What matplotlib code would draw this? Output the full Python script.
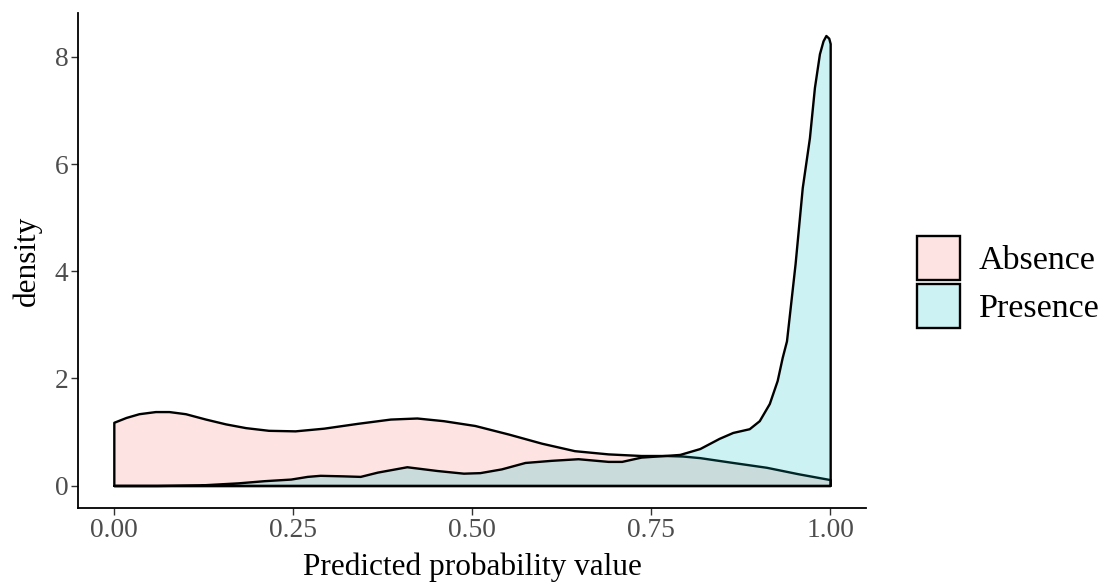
import matplotlib
matplotlib.use("Agg")
import matplotlib.pyplot as plt
from matplotlib.patches import Patch

plt.rcParams['font.family'] = ['Liberation Serif', 'DejaVu Serif']

# ---- data ----
groups = ["Absence", "Presence"]
fill_colors = ["#F8766D", "#00BFC4"]

abs_x = [0.000, 0.017, 0.035, 0.058, 0.077, 0.100, 0.128, 0.156, 0.184, 0.216,
         0.253, 0.293, 0.340, 0.386, 0.423, 0.460, 0.504, 0.551, 0.597, 0.643,
         0.690, 0.736, 0.769, 0.794, 0.818, 0.864, 0.911, 0.955, 1.000]
abs_y = [1.18, 1.27, 1.34, 1.38, 1.38, 1.34, 1.24, 1.15, 1.08, 1.03,
         1.02, 1.07, 1.16, 1.24, 1.26, 1.21, 1.12, 0.96, 0.79, 0.65,
         0.59, 0.56, 0.56, 0.55, 0.52, 0.43, 0.34, 0.22, 0.11]

pre_x = [0.000, 0.060, 0.120, 0.174, 0.210, 0.247, 0.270, 0.288, 0.320, 0.344,
         0.368, 0.409, 0.451, 0.488, 0.511, 0.541, 0.574, 0.611, 0.648, 0.690,
         0.709, 0.736, 0.769, 0.790, 0.818, 0.845, 0.864, 0.887, 0.901, 0.915,
         0.926, 0.933, 0.939, 0.951, 0.961, 0.971, 0.978, 0.985, 0.990, 0.994,
         0.998, 1.000]
pre_y = [0.00, 0.00, 0.01, 0.05, 0.09, 0.12, 0.17, 0.19, 0.18, 0.17,
         0.25, 0.35, 0.28, 0.23, 0.24, 0.31, 0.43, 0.47, 0.50, 0.45,
         0.45, 0.53, 0.56, 0.58, 0.69, 0.88, 0.99, 1.06, 1.21, 1.53,
         1.96, 2.39, 2.70, 4.14, 5.56, 6.49, 7.43, 8.06, 8.30, 8.40,
         8.35, 8.25]

x_ticks = [0.00, 0.25, 0.50, 0.75, 1.00]
x_tick_labels = ["0.00", "0.25", "0.50", "0.75", "1.00"]
y_ticks = [0, 2, 4, 6, 8]
x_title = "Predicted probability value"
y_title = "density"

# ---- figure ----
W, H = 1108, 584
fig = plt.figure(figsize=(W / 100, H / 100), dpi=100)
ax = fig.add_axes([78 / W, 1 - 508 / H, (866 - 78) / W, (508 - 13) / H])

series = [(abs_x, abs_y), (pre_x, pre_y)]
for (xs, ys), col in zip(series, fill_colors):
    ax.fill_between(xs, ys, 0, facecolor=matplotlib.colors.to_rgba(col, 0.2),
                    edgecolor="black", linewidth=1.7, joinstyle="round")

ax.set_xlim(-0.05, 1.05)
ax.set_ylim(-0.42, 8.82)
ax.set_xticks(x_ticks)
ax.set_xticklabels(x_tick_labels)
ax.set_yticks(y_ticks)

for s in ["top", "right"]:
    ax.spines[s].set_visible(False)
for s in ["left", "bottom"]:
    ax.spines[s].set_linewidth(1.3)
    ax.spines[s].set_color("black")

ax.tick_params(axis="both", length=5, width=1.0, color="#333333",
               labelcolor="#4D4D4D", labelsize=19.8, pad=2)

ax.set_xlabel(x_title, fontsize=22.5, color="black", labelpad=7)
ax.set_ylabel(y_title, fontsize=22.5, color="black", labelpad=9)

handles = [Patch(facecolor=matplotlib.colors.to_rgba(c, 0.2), edgecolor="black",
                 linewidth=1.7, label=g) for g, c in zip(groups, fill_colors)]
fig.legend(handles=handles, loc="center left",
           bbox_to_anchor=(917 / W, 1 - 282 / H), frameon=False,
           fontsize=24.5, handlelength=1.27, handleheight=1.62,
           labelspacing=0.12, handletextpad=0.55, borderpad=0,
           borderaxespad=0)

fig.savefig("out.png", dpi=100)
